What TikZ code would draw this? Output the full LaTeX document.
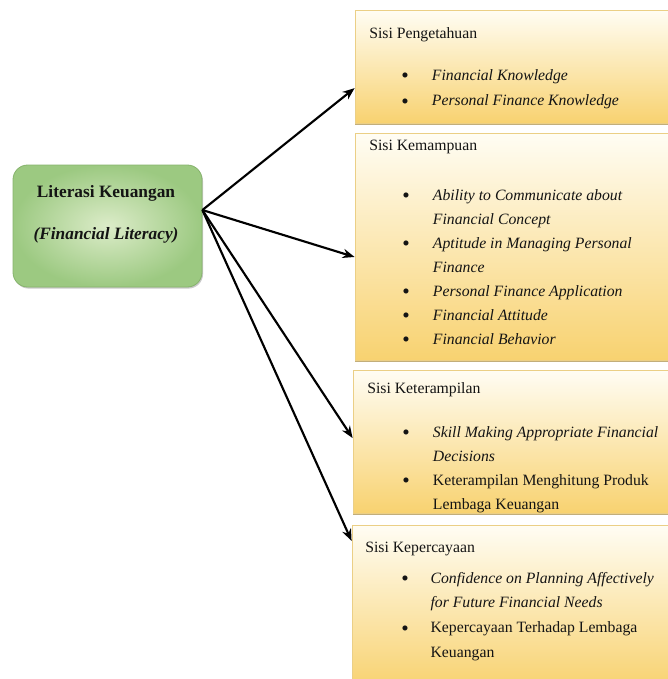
\documentclass[tikz,border=0pt]{standalone}
\usepackage{fontspec}
\setmainfont{Liberation Serif}
\usepackage{tikz}
\usetikzlibrary{arrows.meta,calc,fit,shadows}
\definecolor{cgold}{HTML}{F8D270}
\definecolor{cgoldtop}{HTML}{FFFDF4}
\definecolor{cgoldline}{HTML}{EBCF86}
\definecolor{cshade}{HTML}{B39A5A}
\definecolor{cgreen}{HTML}{9CC981}
\definecolor{cgreenin}{HTML}{DCECC9}
\definecolor{cgreenline}{HTML}{86B36C}
\definecolor{ctext}{HTML}{141414}
\tikzset{
  side/.style={draw=cgoldline, line width=0.6pt, inner sep=0pt, top color=cgoldtop, bottom color=cgold,
    drop shadow={shadow xshift=0pt, shadow yshift=-1.6pt, fill=cshade, opacity=0.8}},
  root/.style={draw=cgreenline, line width=0.6pt, inner sep=0pt, rounded corners=11pt, inner color=cgreenin, outer color=cgreen,
    drop shadow={shadow xshift=0.8pt, shadow yshift=-1.2pt, fill=black!35, opacity=0.6}},
  roottxt/.style={align=center, inner sep=0pt, text=ctext, font=\fontsize{13}{31.5}\selectfont\bfseries},
  head/.style={anchor=base west, inner sep=0pt, text=ctext, font=\fontsize{11.8}{18}\selectfont},
  items/.style={anchor=base west, inner sep=0pt, text=ctext, font=\fontsize{11.8}{18}\selectfont},
  pre/.style={-{Stealth[length=9pt, width=7pt]}, line width=1.6pt},
}
\newcommand{\bul}{\raisebox{-0.32ex}{\scalebox{1.35}{\textbullet}}}

\begin{document}
\begin{tikzpicture}[x=0.75pt, y=-0.75pt]
\useasboundingbox (0,0) rectangle (668,679);
% ---------------- boxes on the right
\node[side, fit={(355,10) (672,123)}] (k1) {};
\node[side, fit={(355,133) (672,360)}] (k2) {};
\node[side, fit={(353,370) (672,513)}] (k3) {};
\node[side, fit={(352,525) (672,688)}] (k4) {};
% ---------------- (1) pengetahuan
\node[head] (h1) at (369,38) {Sisi Pengetahuan};
\node[items] (l1) at (401,80) {\def\arraystretch{1.08}\begin{tabular}[t]{@{}p{23pt}@{}l@{}}
\bul & \textit{Financial Knowledge}\\
\bul & \textit{Personal Finance Knowledge}
\end{tabular}};
% ---------------- (2) kemampuan
\node[head] (h2) at (369,150) {Sisi Kemampuan};
\node[items] (l2) at (402,200) {\begin{tabular}[t]{@{}p{23pt}@{}l@{}}
\bul & \textit{Ability to Communicate about}\\
     & \textit{Financial Concept}\\
\bul & \textit{Aptitude in Managing Personal}\\
     & \textit{Finance}\\
\bul & \textit{Personal Finance Application}\\
\bul & \textit{Financial Attitude}\\
\bul & \textit{Financial Behavior}
\end{tabular}};
% ---------------- (3) keterampilan
\node[head] (h3) at (367,393) {Sisi Keterampilan};
\node[items] (l3) at (402,437) {\begin{tabular}[t]{@{}p{23pt}@{}l@{}}
\bul & \textit{Skill Making Appropriate Financial}\\
     & \textit{Decisions}\\
\bul & Keterampilan Menghitung Produk\\
     & Lembaga Keuangan
\end{tabular}};
% ---------------- (4) kepercayaan
\node[head] (h4) at (365,552) {Sisi Kepercayaan};
\node[items] (l4) at (401,583) {\def\arraystretch{1.04}\begin{tabular}[t]{@{}p{22pt}@{}l@{}}
\bul & \textit{Confidence on Planning Affectively}\\
     & \textit{for Future Financial Needs}\\
\bul & Kepercayaan Terhadap Lembaga\\
     & Keuangan
\end{tabular}};
% ---------------- root
\node[root, fit={(13,165) (202,287)}] (lit) {};
\node[roottxt] (littxt) at (106,214) {Literasi Keuangan\\\textit{(Financial Literacy)}};
% ---------------- arrows
\coordinate (hub) at ($(lit.north east)!0.37!(lit.south east)$);
\draw[pre] (hub) -- ($(k1.north west)!0.69!(k1.south west)$);
\draw[pre] (hub) -- ($(k2.north west)!0.546!(k2.south west)$);
\draw[pre] (hub) -- ($(k3.north west)!0.476!(k3.south west)$);
\draw[pre] (hub) -- ($(k4.north west)!0.1!(k4.south west)$);
\end{tikzpicture}
\end{document}
